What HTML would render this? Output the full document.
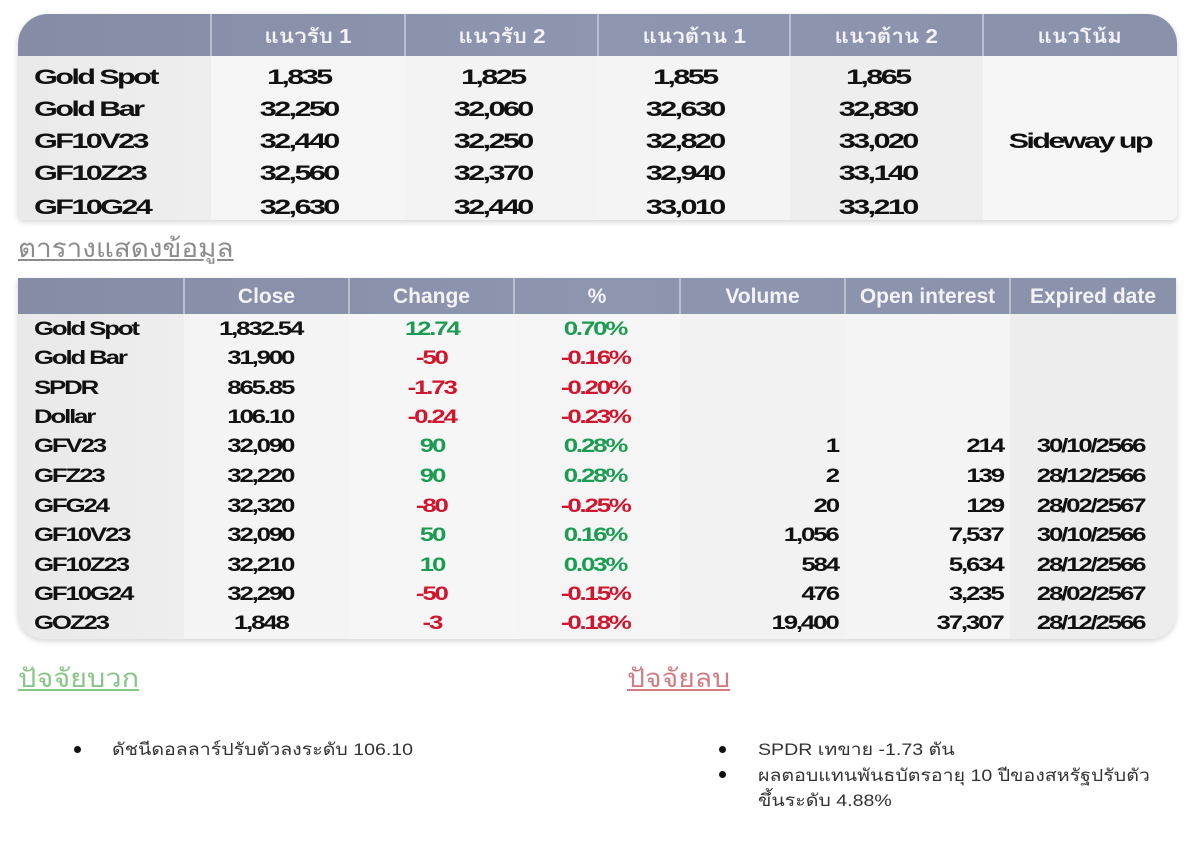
<!DOCTYPE html>
<html><head><meta charset="utf-8">
<style>
html,body{margin:0;padding:0;background:#fff;}
body{width:1200px;height:843px;position:relative;overflow:hidden;font-family:"Liberation Sans","Loma","Garuda","Norasi","Noto Sans Thai","TlwgTypo",sans-serif;}
.box{position:absolute;}
.t{position:absolute;white-space:nowrap;font-family:"Liberation Sans",sans-serif;font-weight:bold;color:#111;}
.t span{display:inline-block;}
.a{font-size:21px;letter-spacing:-1.8px;height:32px;line-height:32px;}
.a span{transform:scaleX(1.46);}
.b{font-size:19px;letter-spacing:-1.6px;height:30px;line-height:30px;}
.b span{transform:scaleX(1.36);}
.l span{transform-origin:left center;}
.c{text-align:center;}
.r{text-align:right;}
.r span{transform-origin:right center;}
.g{color:#1c9c52;}
.rd{color:#d0152c;}
.h{position:absolute;color:#f3f3f7;text-align:center;white-space:nowrap;}
.h1{font-size:20px;font-weight:bold;height:42px;line-height:42px;top:16px;font-family:"Liberation Sans","Loma","Garuda","Norasi","Noto Sans Thai",sans-serif;}
.h1 span{display:inline-block;transform:scaleX(1.12);}
.h2{font-size:21px;font-weight:bold;height:36px;line-height:36px;top:279px;font-family:"Liberation Sans",sans-serif;}
.vd{position:absolute;width:2px;background:#b9bed0;}
.bul{position:absolute;width:7px;height:7px;border-radius:50%;background:#111;}
.bt{position:absolute;font-size:17px;color:#333;white-space:nowrap;transform:scaleX(1.15);transform-origin:left center;font-family:"Liberation Sans","Loma","Garuda","Norasi","Noto Sans Thai",sans-serif;}
.sc{display:inline-block;transform-origin:left center;}
</style></head>
<body>

<!-- TABLE 1 -->
<div class="box" style="left:18px;top:14px;width:1159px;height:206px;border-radius:30px 30px 6px 6px;box-shadow:0 2px 6px rgba(0,0,0,0.18);background:#f4f4f4;overflow:hidden;">
  <div class="box" style="left:0;top:0;width:1159px;height:42px;background:linear-gradient(90deg,#868ca5,#8e95af 50%,#8a91ab);"></div>
  <div class="box" style="left:0;top:42px;width:193px;height:164px;background:linear-gradient(90deg,#eaeaea,#eeeeee);"></div>
  <div class="box" style="left:193px;top:42px;width:194px;height:164px;background:#f5f5f5;"></div>
  <div class="box" style="left:387px;top:42px;width:193px;height:164px;background:#f3f3f3;"></div>
  <div class="box" style="left:580px;top:42px;width:192px;height:164px;background:#f4f4f4;"></div>
  <div class="box" style="left:772px;top:42px;width:193px;height:164px;background:#eeeeee;"></div>
  <div class="box" style="left:965px;top:42px;width:194px;height:164px;background:#f6f6f6;"></div>
</div>
<div class="vd" style="left:210px;top:14px;height:42px;"></div>
<div class="vd" style="left:404px;top:14px;height:42px;"></div>
<div class="vd" style="left:597px;top:14px;height:42px;"></div>
<div class="vd" style="left:789px;top:14px;height:42px;"></div>
<div class="vd" style="left:982px;top:14px;height:42px;"></div>

<div class="h h1" style="left:211px;width:194px;"><span>แนวรับ 1</span></div>
<div class="h h1" style="left:405px;width:193px;"><span>แนวรับ 2</span></div>
<div class="h h1" style="left:598px;width:192px;"><span>แนวต้าน 1</span></div>
<div class="h h1" style="left:790px;width:193px;"><span>แนวต้าน 2</span></div>
<div class="h h1" style="left:983px;width:194px;"><span>แนวโน้ม</span></div>

<!-- rows table1 -->
<div class="t a l" style="left:34px;top:62px;"><span>Gold Spot</span></div>
<div class="t a c" style="left:202px;width:194px;top:62px;"><span>1,835</span></div>
<div class="t a c" style="left:396px;width:193px;top:62px;"><span>1,825</span></div>
<div class="t a c" style="left:589px;width:192px;top:62px;"><span>1,855</span></div>
<div class="t a c" style="left:781px;width:193px;top:62px;"><span>1,865</span></div>

<div class="t a l" style="left:34px;top:94px;"><span>Gold Bar</span></div>
<div class="t a c" style="left:202px;width:194px;top:94px;"><span>32,250</span></div>
<div class="t a c" style="left:396px;width:193px;top:94px;"><span>32,060</span></div>
<div class="t a c" style="left:589px;width:192px;top:94px;"><span>32,630</span></div>
<div class="t a c" style="left:781px;width:193px;top:94px;"><span>32,830</span></div>

<div class="t a l" style="left:34px;top:126px;"><span>GF10V23</span></div>
<div class="t a c" style="left:202px;width:194px;top:126px;"><span>32,440</span></div>
<div class="t a c" style="left:396px;width:193px;top:126px;"><span>32,250</span></div>
<div class="t a c" style="left:589px;width:192px;top:126px;"><span>32,820</span></div>
<div class="t a c" style="left:781px;width:193px;top:126px;"><span>33,020</span></div>
<div class="t a c" style="left:983px;width:194px;top:126px;"><span>Sideway up</span></div>

<div class="t a l" style="left:34px;top:158px;"><span>GF10Z23</span></div>
<div class="t a c" style="left:202px;width:194px;top:158px;"><span>32,560</span></div>
<div class="t a c" style="left:396px;width:193px;top:158px;"><span>32,370</span></div>
<div class="t a c" style="left:589px;width:192px;top:158px;"><span>32,940</span></div>
<div class="t a c" style="left:781px;width:193px;top:158px;"><span>33,140</span></div>

<div class="t a l" style="left:34px;top:192px;"><span>GF10G24</span></div>
<div class="t a c" style="left:202px;width:194px;top:192px;"><span>32,630</span></div>
<div class="t a c" style="left:396px;width:193px;top:192px;"><span>32,440</span></div>
<div class="t a c" style="left:589px;width:192px;top:192px;"><span>33,010</span></div>
<div class="t a c" style="left:781px;width:193px;top:192px;"><span>33,210</span></div>

<!-- title -->
<div class="box" style="left:18px;top:233px;font-size:26px;line-height:30px;color:#8c8c8c;white-space:nowrap;"><span class="sc" style="transform:scaleX(1.07);text-decoration:underline;">ตารางแสดงข้อมูล</span></div>

<!-- TABLE 2 -->
<div class="box" style="left:18px;top:278px;width:1158px;height:361px;border-radius:0 0 26px 26px;box-shadow:0 2px 6px rgba(0,0,0,0.18);background:#f4f4f4;overflow:hidden;">
  <div class="box" style="left:0;top:0;width:1158px;height:36px;background:linear-gradient(90deg,#868ca5,#8e95af 50%,#8a91ab);"></div>
  <div class="box" style="left:0;top:36px;width:166px;height:325px;background:linear-gradient(90deg,#e9e9e9,#eeeeee);"></div>
  <div class="box" style="left:166px;top:36px;width:165px;height:325px;background:#f4f4f4;"></div>
  <div class="box" style="left:331px;top:36px;width:165px;height:325px;background:#f6f6f6;"></div>
  <div class="box" style="left:496px;top:36px;width:166px;height:325px;background:#f5f5f5;"></div>
  <div class="box" style="left:662px;top:36px;width:165px;height:325px;background:#f2f2f2;"></div>
  <div class="box" style="left:827px;top:36px;width:165px;height:325px;background:#f4f4f4;"></div>
  <div class="box" style="left:992px;top:36px;width:166px;height:325px;background:#ededed;"></div>
</div>
<div class="vd" style="left:183px;top:278px;height:36px;"></div>
<div class="vd" style="left:348px;top:278px;height:36px;"></div>
<div class="vd" style="left:513px;top:278px;height:36px;"></div>
<div class="vd" style="left:679px;top:278px;height:36px;"></div>
<div class="vd" style="left:844px;top:278px;height:36px;"></div>
<div class="vd" style="left:1009px;top:278px;height:36px;"></div>

<div class="h h2" style="left:184px;width:165px;">Close</div>
<div class="h h2" style="left:349px;width:165px;">Change</div>
<div class="h h2" style="left:514px;width:166px;">%</div>
<div class="h h2" style="left:680px;width:165px;">Volume</div>
<div class="h h2" style="left:845px;width:165px;">Open interest</div>
<div class="h h2" style="left:1010px;width:166px;">Expired date</div>

<!-- rows table2 -->
<div class="t b l" style="left:34px;top:315px;"><span>Gold Spot</span></div>
<div class="t b c" style="left:178px;width:165px;top:315px;"><span>1,832.54</span></div>
<div class="t b c g" style="left:349px;width:165px;top:315px;"><span>12.74</span></div>
<div class="t b c g" style="left:512px;width:166px;top:315px;"><span>0.70%</span></div>

<div class="t b l" style="left:34px;top:344px;"><span>Gold Bar</span></div>
<div class="t b c" style="left:178px;width:165px;top:344px;"><span>31,900</span></div>
<div class="t b c rd" style="left:349px;width:165px;top:344px;"><span>-50</span></div>
<div class="t b c rd" style="left:512px;width:166px;top:344px;"><span>-0.16%</span></div>

<div class="t b l" style="left:34px;top:374px;"><span>SPDR</span></div>
<div class="t b c" style="left:178px;width:165px;top:374px;"><span>865.85</span></div>
<div class="t b c rd" style="left:349px;width:165px;top:374px;"><span>-1.73</span></div>
<div class="t b c rd" style="left:512px;width:166px;top:374px;"><span>-0.20%</span></div>

<div class="t b l" style="left:34px;top:403px;"><span>Dollar</span></div>
<div class="t b c" style="left:178px;width:165px;top:403px;"><span>106.10</span></div>
<div class="t b c rd" style="left:349px;width:165px;top:403px;"><span>-0.24</span></div>
<div class="t b c rd" style="left:512px;width:166px;top:403px;"><span>-0.23%</span></div>

<div class="t b l" style="left:34px;top:432px;"><span>GFV23</span></div>
<div class="t b c" style="left:178px;width:165px;top:432px;"><span>32,090</span></div>
<div class="t b c g" style="left:349px;width:165px;top:432px;"><span>90</span></div>
<div class="t b c g" style="left:512px;width:166px;top:432px;"><span>0.28%</span></div>
<div class="t b r" style="left:680px;width:158px;top:432px;"><span>1</span></div>
<div class="t b r" style="left:845px;width:158px;top:432px;"><span>214</span></div>
<div class="t b c" style="left:1010px;width:162px;top:432px;"><span>30/10/2566</span></div>

<div class="t b l" style="left:34px;top:462px;"><span>GFZ23</span></div>
<div class="t b c" style="left:178px;width:165px;top:462px;"><span>32,220</span></div>
<div class="t b c g" style="left:349px;width:165px;top:462px;"><span>90</span></div>
<div class="t b c g" style="left:512px;width:166px;top:462px;"><span>0.28%</span></div>
<div class="t b r" style="left:680px;width:158px;top:462px;"><span>2</span></div>
<div class="t b r" style="left:845px;width:158px;top:462px;"><span>139</span></div>
<div class="t b c" style="left:1010px;width:162px;top:462px;"><span>28/12/2566</span></div>

<div class="t b l" style="left:34px;top:492px;"><span>GFG24</span></div>
<div class="t b c" style="left:178px;width:165px;top:492px;"><span>32,320</span></div>
<div class="t b c rd" style="left:349px;width:165px;top:492px;"><span>-80</span></div>
<div class="t b c rd" style="left:512px;width:166px;top:492px;"><span>-0.25%</span></div>
<div class="t b r" style="left:680px;width:158px;top:492px;"><span>20</span></div>
<div class="t b r" style="left:845px;width:158px;top:492px;"><span>129</span></div>
<div class="t b c" style="left:1010px;width:162px;top:492px;"><span>28/02/2567</span></div>

<div class="t b l" style="left:34px;top:521px;"><span>GF10V23</span></div>
<div class="t b c" style="left:178px;width:165px;top:521px;"><span>32,090</span></div>
<div class="t b c g" style="left:349px;width:165px;top:521px;"><span>50</span></div>
<div class="t b c g" style="left:512px;width:166px;top:521px;"><span>0.16%</span></div>
<div class="t b r" style="left:680px;width:158px;top:521px;"><span>1,056</span></div>
<div class="t b r" style="left:845px;width:158px;top:521px;"><span>7,537</span></div>
<div class="t b c" style="left:1010px;width:162px;top:521px;"><span>30/10/2566</span></div>

<div class="t b l" style="left:34px;top:551px;"><span>GF10Z23</span></div>
<div class="t b c" style="left:178px;width:165px;top:551px;"><span>32,210</span></div>
<div class="t b c g" style="left:349px;width:165px;top:551px;"><span>10</span></div>
<div class="t b c g" style="left:512px;width:166px;top:551px;"><span>0.03%</span></div>
<div class="t b r" style="left:680px;width:158px;top:551px;"><span>584</span></div>
<div class="t b r" style="left:845px;width:158px;top:551px;"><span>5,634</span></div>
<div class="t b c" style="left:1010px;width:162px;top:551px;"><span>28/12/2566</span></div>

<div class="t b l" style="left:34px;top:580px;"><span>GF10G24</span></div>
<div class="t b c" style="left:178px;width:165px;top:580px;"><span>32,290</span></div>
<div class="t b c rd" style="left:349px;width:165px;top:580px;"><span>-50</span></div>
<div class="t b c rd" style="left:512px;width:166px;top:580px;"><span>-0.15%</span></div>
<div class="t b r" style="left:680px;width:158px;top:580px;"><span>476</span></div>
<div class="t b r" style="left:845px;width:158px;top:580px;"><span>3,235</span></div>
<div class="t b c" style="left:1010px;width:162px;top:580px;"><span>28/02/2567</span></div>

<div class="t b l" style="left:34px;top:609px;"><span>GOZ23</span></div>
<div class="t b c" style="left:178px;width:165px;top:609px;"><span>1,848</span></div>
<div class="t b c rd" style="left:349px;width:165px;top:609px;"><span>-3</span></div>
<div class="t b c rd" style="left:512px;width:166px;top:609px;"><span>-0.18%</span></div>
<div class="t b r" style="left:680px;width:158px;top:609px;"><span>19,400</span></div>
<div class="t b r" style="left:845px;width:158px;top:609px;"><span>37,307</span></div>
<div class="t b c" style="left:1010px;width:162px;top:609px;"><span>28/12/2566</span></div>

<!-- factors -->
<div class="box" style="left:18px;top:662px;font-size:26px;line-height:32px;color:#86c686;white-space:nowrap;"><span class="sc" style="transform:scaleX(1.11);text-decoration:underline;">ปัจจัยบวก</span></div>
<div class="box" style="left:627px;top:662px;font-size:26px;line-height:32px;color:#d27c82;white-space:nowrap;"><span class="sc" style="transform:scaleX(1.09);text-decoration:underline;">ปัจจัยลบ</span></div>

<div class="bul" style="left:74px;top:746px;"></div>
<div class="bt" style="left:112px;top:738px;line-height:24px;">ดัชนีดอลลาร์ปรับตัวลงระดับ 106.10</div>

<div class="bul" style="left:719px;top:746px;"></div>
<div class="bt" style="left:758px;top:738px;line-height:24px;">SPDR เทขาย -1.73 ตัน</div>
<div class="bul" style="left:719px;top:771px;"></div>
<div class="bt" style="left:758px;top:763px;line-height:25px;">ผลตอบแทนพันธบัตรอายุ 10 ปีของสหรัฐปรับตัว<br>ขึ้นระดับ 4.88%</div>

</body></html>
